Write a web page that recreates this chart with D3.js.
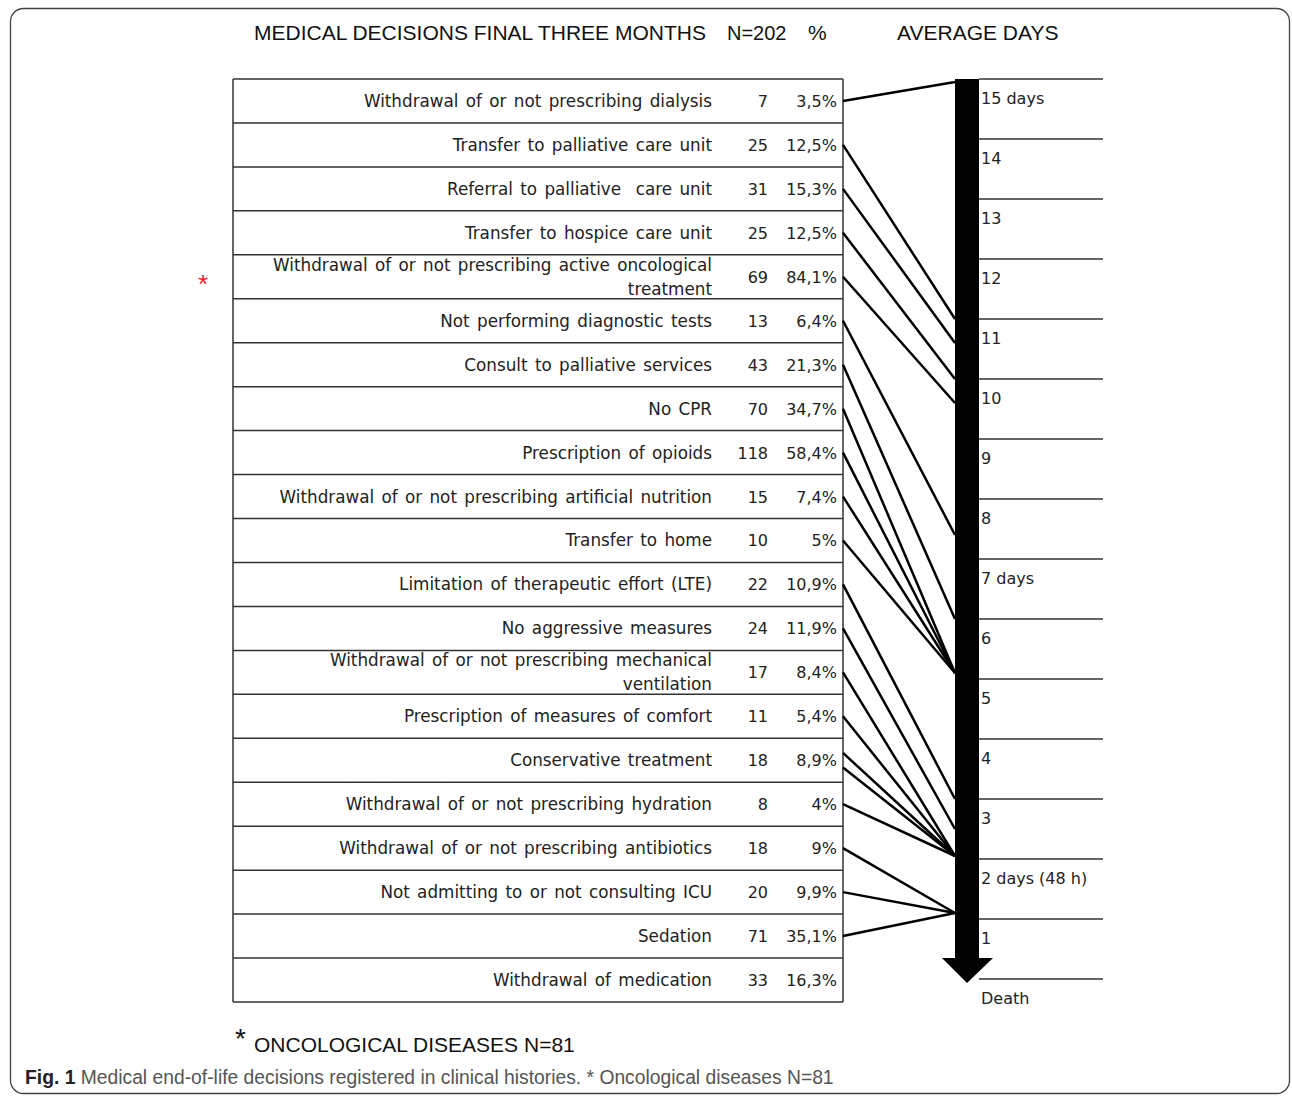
<!DOCTYPE html>
<html>
<head>
<meta charset="utf-8">
<script src="https://cdn.jsdelivr.net/npm/d3@7"></script>
<style>
  html, body { margin: 0; padding: 0; background: #fff; }
  svg { display: block; }
  .row text { white-space: pre; }
</style>
</head>
<body>
<div id="d3-container"></div>
<script>
/**
 * DATA
 * */
const decisions = [
  ["Withdrawal of or not prescribing dialysis"],
  ["Transfer to palliative care unit"],
  ["Referral to palliative  care unit"],
  ["Transfer to hospice care unit"],
  ["Withdrawal of or not prescribing active oncological", "treatment"],
  ["Not performing diagnostic tests"],
  ["Consult to palliative services"],
  ["No CPR"],
  ["Prescription of opioids"],
  ["Withdrawal of or not prescribing artificial nutrition"],
  ["Transfer to home"],
  ["Limitation of therapeutic effort (LTE)"],
  ["No aggressive measures"],
  ["Withdrawal of or not prescribing mechanical", "ventilation"],
  ["Prescription of measures of comfort"],
  ["Conservative treatment"],
  ["Withdrawal of or not prescribing hydration"],
  ["Withdrawal of or not prescribing antibiotics"],
  ["Not admitting to or not consulting ICU"],
  ["Sedation"],
  ["Withdrawal of medication"]
];
const counts = [7, 25, 31, 25, 69, 13, 43, 70, 118, 15, 10, 22, 24, 17, 11, 18, 8, 18, 20, 71, 33];
const percents = ["3,5%", "12,5%", "15,3%", "12,5%", "84,1%", "6,4%", "21,3%", "34,7%", "58,4%", "7,4%",
  "5%", "10,9%", "11,9%", "8,4%", "5,4%", "8,9%", "4%", "9%", "9,9%", "35,1%", "16,3%"];
const oncologicalRows = [4];

// connector lines: which row they leave from, and the average days they point at
const linkRows = [0, 1, 2, 3, 4, 5, 6, 7, 8, 9, 10, 11, 12, 13, 14, 15, 15, 16, 17, 18, 19];
const linkDays = [14.95, 11, 10.6, 10, 9.6, 7.4, 6, 5.1, 5.1, 5.1, 5.1, 3, 2.5, 2.05, 2.05, 2.05, 2.05, 2.05, 1.1, 1.1, 1.1];

const dayTicks = d3.range(0, 16);
const dayNames = { 15: "15 days", 7: "7 days", 2: "2 days (48 h)", 0: "Death" };

/**
 * CONSTANTS
 * */
const width = 1292,
  height = 1096,
  table = { left: 233, right: 843, top: 79, bottom: 1002 },
  axis = { left: 955, right: 979, gridEnd: 1103 };

const labelFont = "'DejaVu Sans', Verdana, sans-serif";
const headFont = "'Liberation Sans', Arial, sans-serif";

const svg = d3.select("#d3-container")
  .append("svg")
  .attr("width", width)
  .attr("height", height);

// frame
svg.append("rect")
  .attr("x", 10.5).attr("y", 8.5)
  .attr("width", 1279).attr("height", 1085)
  .attr("rx", 13)
  .attr("fill", "none")
  .attr("stroke", "#444")
  .attr("stroke-width", 1.3);

/**
 * SCALES
 * */
const yRow = d3.scaleBand()
  .domain(d3.range(decisions.length))
  .range([table.top, table.bottom]);

const yDay = d3.scaleLinear()
  .domain([0, 15])
  .range([979, table.top]);

/**
 * HEADER
 * */
const head = svg.append("g")
  .attr("font-family", headFont)
  .attr("font-size", 21)
  .attr("fill", "#111");
head.append("text").attr("x", 254).attr("y", 40).text("MEDICAL DECISIONS FINAL THREE MONTHS");
head.append("text").attr("x", 727).attr("y", 40).attr("font-size", 20).text("N=202");
head.append("text").attr("x", 808).attr("y", 40).text("%");
head.append("text").attr("x", 897).attr("y", 40).text("AVERAGE DAYS");

/**
 * TABLE
 * */
const rows = svg.append("g")
  .selectAll(".row")
  .data(decisions.map((d, i) => ({ i, label: d, n: counts[i], pct: percents[i] })))
  .join("g")
  .attr("class", "row")
  .attr("transform", d => `translate(0, ${yRow(d.i)})`);

rows.append("line")
  .attr("x1", table.left).attr("x2", table.right)
  .attr("y1", 0).attr("y2", 0)
  .attr("stroke", "#333")
  .attr("stroke-width", 1.5);

const bw = yRow.bandwidth();

rows.append("text")
  .attr("x", 712)
  .attr("text-anchor", "end")
  .attr("font-family", labelFont)
  .attr("font-size", 16.8)
  .attr("word-spacing", 2)
  .attr("fill", "#222")
  .selectAll("tspan")
  .data(d => d.label.map((t, k) => ({ t, k, len: d.label.length })))
  .join("tspan")
  .attr("x", 712)
  .attr("y", d => bw / 2 + 6 + (d.k - (d.len - 1) / 2) * 24)
  .text(d => d.t);

rows.append("text")
  .attr("x", 768)
  .attr("y", bw / 2 + 6)
  .attr("text-anchor", "end")
  .attr("font-family", labelFont)
  .attr("font-size", 16)
  .attr("fill", "#222")
  .text(d => d.n);

rows.append("text")
  .attr("x", 837)
  .attr("y", bw / 2 + 6)
  .attr("text-anchor", "end")
  .attr("font-family", labelFont)
  .attr("font-size", 16)
  .attr("fill", "#222")
  .text(d => d.pct);

// bottom border and verticals
svg.append("line")
  .attr("x1", table.left).attr("x2", table.right)
  .attr("y1", table.bottom).attr("y2", table.bottom)
  .attr("stroke", "#333").attr("stroke-width", 1.5);
[table.left, table.right].forEach(x => {
  svg.append("line")
    .attr("x1", x).attr("x2", x)
    .attr("y1", table.top).attr("y2", table.bottom)
    .attr("stroke", "#333").attr("stroke-width", 1.5);
});

// oncological marker
svg.selectAll(".star")
  .data(oncologicalRows)
  .join("text")
  .attr("class", "star")
  .attr("x", 203)
  .attr("y", d => yRow(d) + bw / 2 + 16)
  .attr("text-anchor", "middle")
  .attr("font-family", headFont)
  .attr("font-size", 26)
  .attr("fill", "#e8261f")
  .text("*");

/**
 * DAYS AXIS
 * */
const grid = svg.append("g")
  .selectAll(".tick")
  .data(dayTicks)
  .join("g")
  .attr("class", "tick")
  .attr("transform", d => `translate(0, ${yDay(d)})`);

grid.append("line")
  .attr("x1", axis.right).attr("x2", axis.gridEnd)
  .attr("stroke", "#333")
  .attr("stroke-width", 1.4);

grid.append("text")
  .attr("x", 981)
  .attr("y", 25)
  .attr("font-family", labelFont)
  .attr("font-size", 16)
  .attr("fill", "#222")
  .text(d => dayNames[d] || d);

// the arrow
const headTop = yDay(0) - 21;
svg.append("rect")
  .attr("x", axis.left).attr("y", yDay(15))
  .attr("width", axis.right - axis.left)
  .attr("height", headTop - yDay(15) + 1)
  .attr("fill", "#000");
svg.append("path")
  .attr("d", `M${axis.left - 13},${headTop} L${axis.right + 14},${headTop} L${(axis.left + axis.right) / 2},${yDay(0) + 4} Z`)
  .attr("fill", "#000");

/**
 * CONNECTORS
 * */
const perRow = d3.rollup(linkRows.map((r, i) => i), v => v, i => linkRows[i]);
const links = linkRows.map((r, i) => {
  const group = perRow.get(r);
  const k = group.indexOf(i);
  return {
    y0: yRow(r) + bw * (k + 1) / (group.length + 1),
    y1: yDay(linkDays[i])
  };
});

svg.append("g")
  .selectAll("line")
  .data(links)
  .join("line")
  .attr("x1", table.right).attr("y1", d => d.y0)
  .attr("x2", axis.left).attr("y2", d => d.y1)
  .attr("stroke", "#000")
  .attr("stroke-width", 2.5);

/**
 * FOOTNOTE AND CAPTION
 * */
svg.append("text")
  .attr("x", 235).attr("y", 1048)
  .attr("font-family", headFont)
  .attr("font-size", 28)
  .attr("fill", "#111")
  .text("*");
svg.append("text")
  .attr("x", 254).attr("y", 1052)
  .attr("font-family", headFont)
  .attr("font-size", 21)
  .attr("fill", "#111")
  .text("ONCOLOGICAL DISEASES N=81");

const caption = svg.append("text")
  .attr("x", 25).attr("y", 1084)
  .attr("font-family", headFont)
  .attr("font-size", 19.3)
  .attr("fill", "#555");
caption.append("tspan").attr("font-weight", "bold").attr("fill", "#222").text("Fig. 1");
caption.append("tspan").text(" Medical end-of-life decisions registered in clinical histories. * Oncological diseases N=81");
</script>
</body>
</html>
